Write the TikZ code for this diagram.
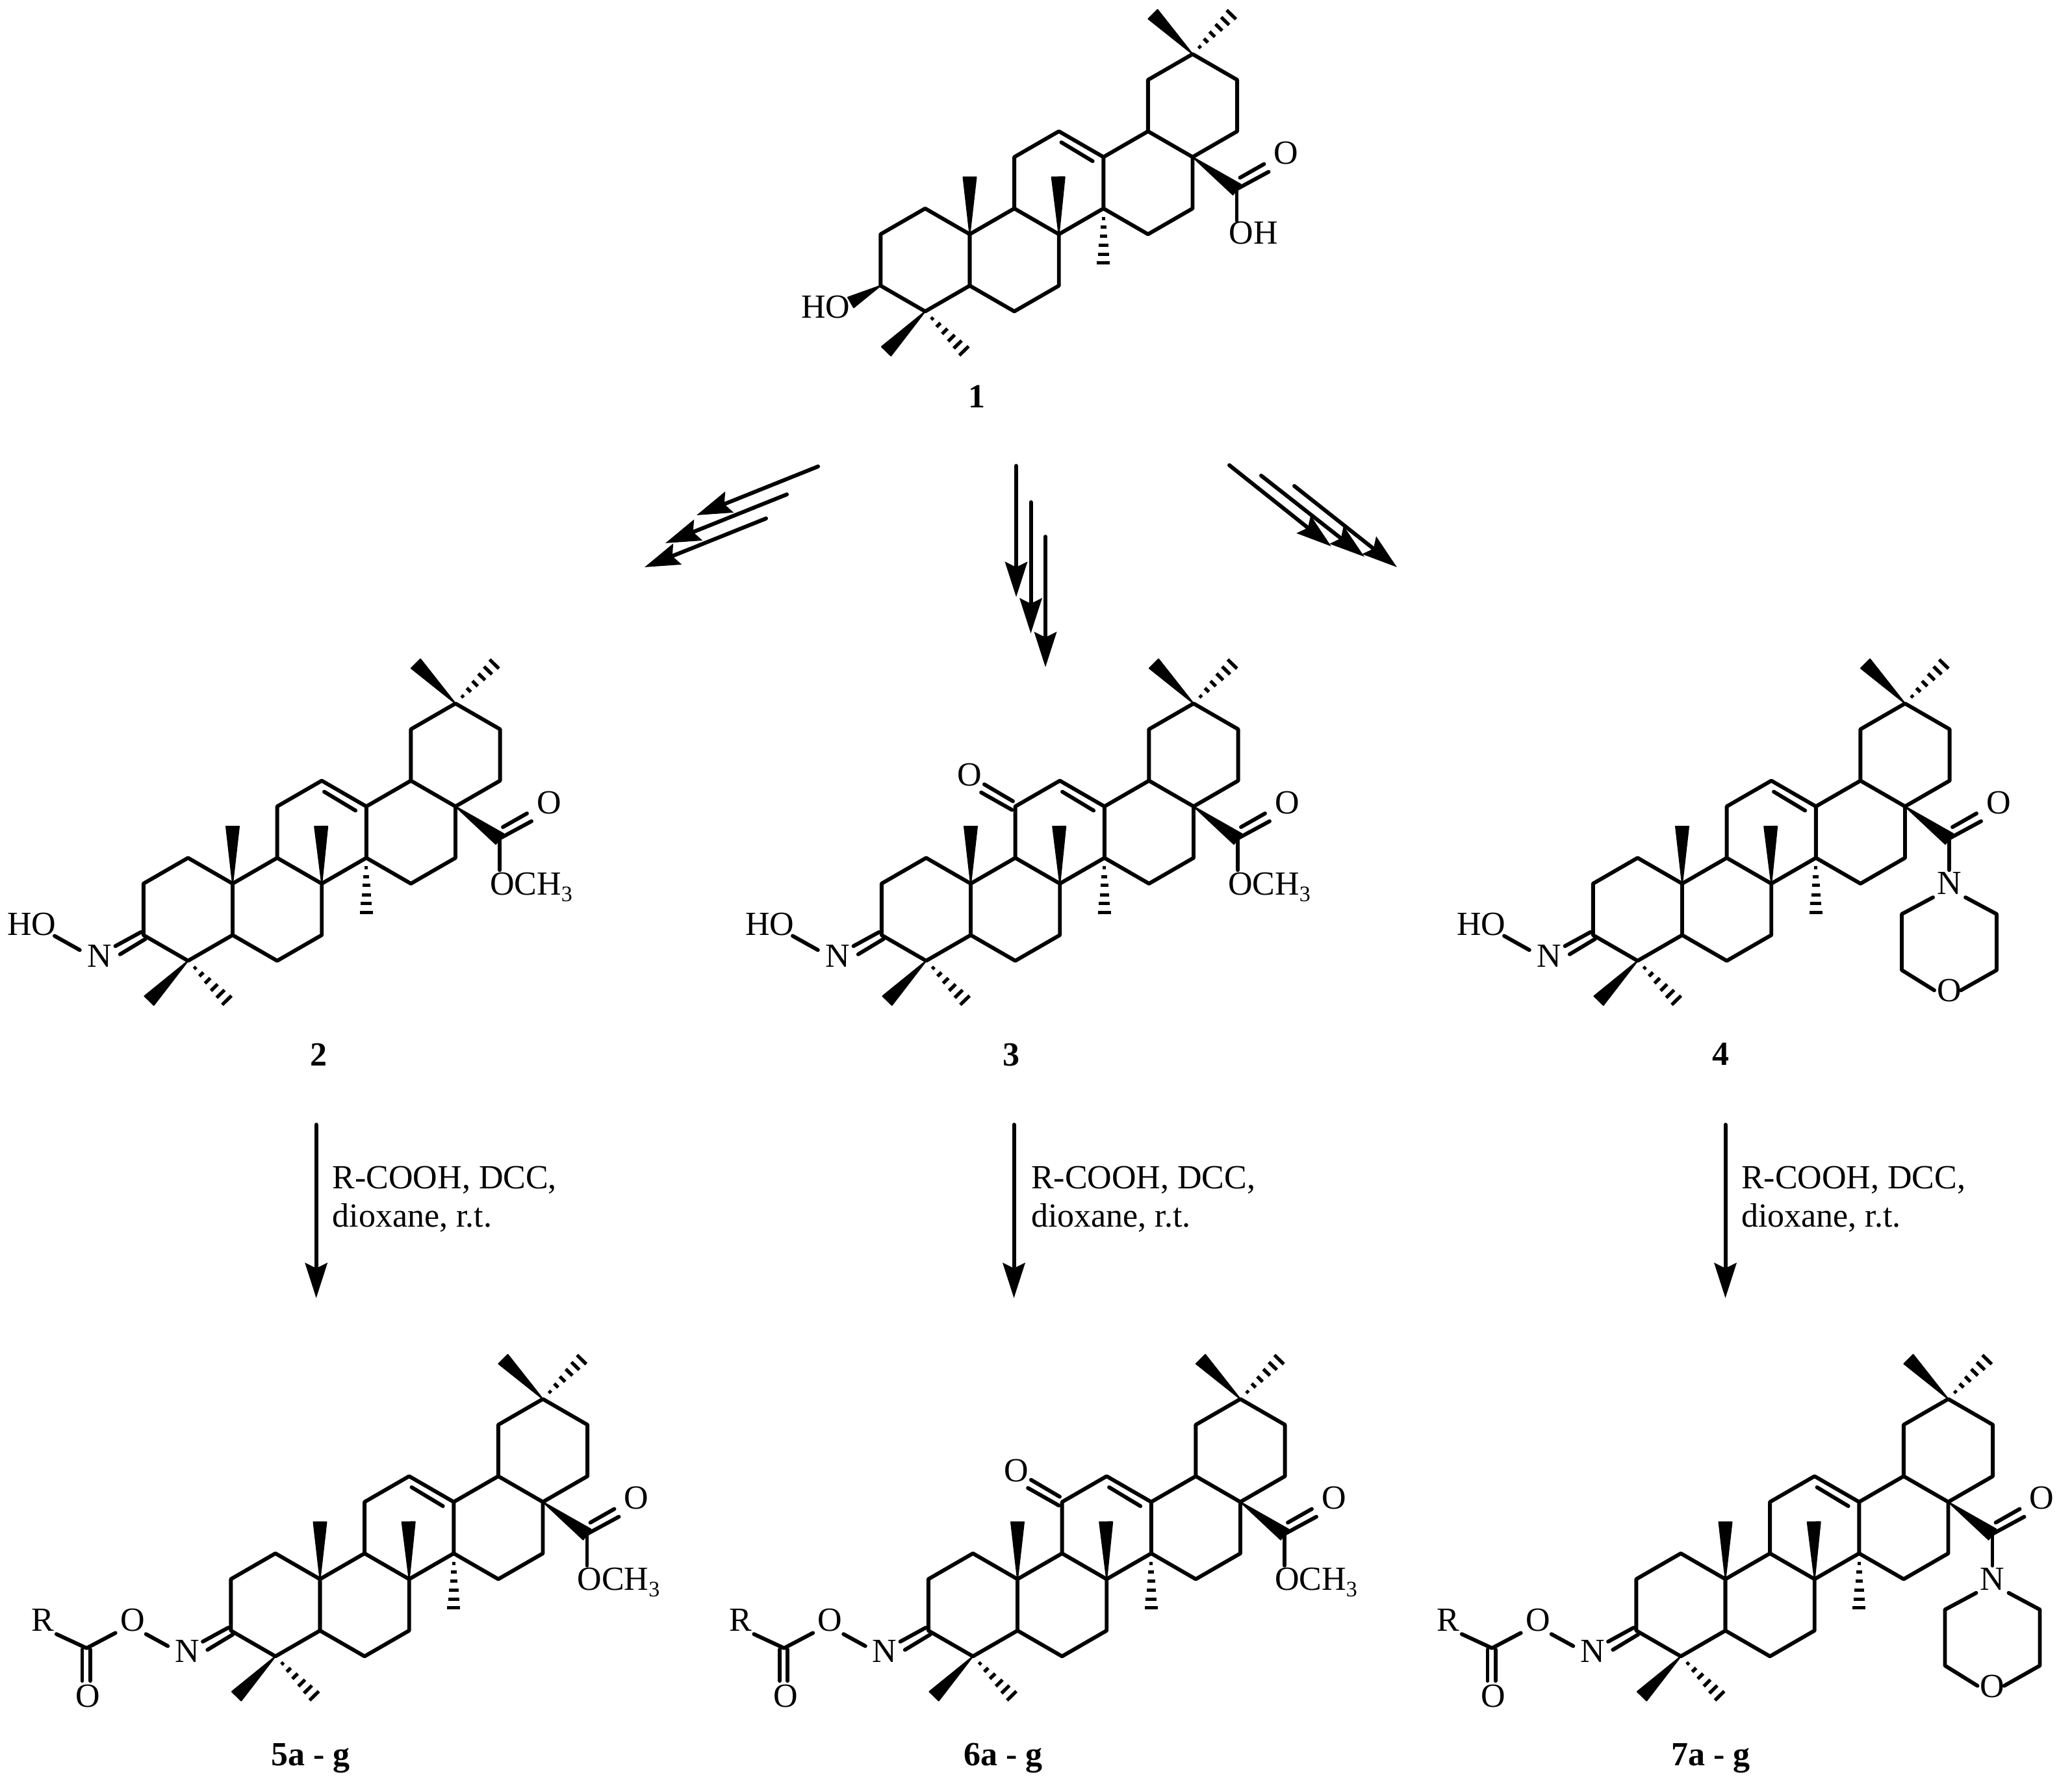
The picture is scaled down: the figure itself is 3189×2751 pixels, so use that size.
\documentclass[tikz,border=0pt]{standalone}
\usepackage{fontspec}
\setmainfont{Liberation Serif}
\usetikzlibrary{calc,arrows.meta}
\tikzset{
  bond/.style={line width=2.95pt,line cap=round,line join=round},
  rxn/.style={line width=3pt,line cap=round,-{Stealth[length=27pt,width=17pt,inset=4pt]}},
  atom/.style={inner sep=0pt,outer sep=0pt,anchor=base,font=\fontsize{26pt}{30pt}\selectfont},
  atomw/.style={atom,anchor=base west},
  cpd/.style={atom,font=\fontsize{26pt}{30pt}\selectfont\bfseries},
  cond/.style={inner sep=0pt,outer sep=0pt,anchor=base west,align=left,font=\fontsize{26pt}{29.5pt}\selectfont},
}
\newcommand{\wdg}[3]{\filldraw[line width=1pt,line join=round] (#1) -- ($(#2)!#3!90:(#1)$) -- ($(#2)!#3!-90:(#1)$) -- cycle;}
\newcommand{\hsh}[2]{\foreach \t/\w in {.18/1.2pt,.34/2.2pt,.5/2.9pt,.67/3.6pt,.83/4.3pt,.99/5pt}{%
  \coordinate (hm) at ($(#1)!\t!(#2)$);
  \draw[line width=2.6pt] ($(hm)!\w!90:(#2)$) -- ($(hm)!\w!-90:(#2)$);}}
\newcommand{\skel}[1]{%
  \coordinate (#1C10) at (0,0);
  \coordinate (#1C5) at (0,79.2);
  \coordinate (#1C4) at (-68.6,118.8);
  \coordinate (#1C3) at (-137.2,79.2);
  \coordinate (#1C2) at (-137.2,0);
  \coordinate (#1C1) at (-68.6,-39.6);
  \coordinate (#1C6) at (68.6,118.8);
  \coordinate (#1C7) at (137.2,79.2);
  \coordinate (#1C8) at (137.2,0);
  \coordinate (#1C9) at (68.6,-39.6);
  \coordinate (#1C14) at (205.8,-39.6);
  \coordinate (#1C13) at (205.8,-118.8);
  \coordinate (#1C12) at (137.2,-158.4);
  \coordinate (#1C11) at (68.6,-118.8);
  \coordinate (#1C15) at (274.4,0);
  \coordinate (#1C16) at (343,-39.6);
  \coordinate (#1C17) at (343,-118.8);
  \coordinate (#1C18) at (274.4,-158.4);
  \coordinate (#1C19) at (274.4,-237.6);
  \coordinate (#1C20) at (343,-277.2);
  \coordinate (#1C21) at (411.6,-237.6);
  \coordinate (#1C22) at (411.6,-158.4);
  \coordinate (#1Db) at (141,-141.4);
  \coordinate (#1De) at (189.2,-112.4);
  \coordinate (#1Me10) at (0,-88);
  \coordinate (#1Me8) at (136.2,-88);
  \coordinate (#1Me14) at (205.8,45);
  \coordinate (#1Me4a) at (-128.4,180.1);
  \coordinate (#1Me4b) at (-8.3,180.1);
  \coordinate (#1Me20a) at (282,-338.5);
  \coordinate (#1Me20b) at (403.3,-338.5);
  \coordinate (#1CO) at (411,-68.8);
  \coordinate (#1Oa) at (416,-87);
  \coordinate (#1Ob) at (453,-108);
  \coordinate (#1Oc) at (412,-70);
  \coordinate (#1Od) at (460,-96);
  \coordinate (#1X) at (411,-20.8);
  \draw[bond] (#1C3)--(#1C2)--(#1C1)--(#1C10)--(#1C5)--(#1C4)--cycle;
  \draw[bond] (#1C5)--(#1C6)--(#1C7)--(#1C8)--(#1C9)--(#1C10)--cycle;
  \draw[bond] (#1C9)--(#1C11)--(#1C12)--(#1C13)--(#1C14)--(#1C8);
  \draw[bond] (#1C14)--(#1C15)--(#1C16)--(#1C17)--(#1C18)--(#1C13);
  \draw[bond] (#1C18)--(#1C19)--(#1C20)--(#1C21)--(#1C22)--(#1C17);
  \draw[bond] (#1Db)--(#1De);
  \wdg{#1C10}{#1Me10}{5pt}
  \wdg{#1C8}{#1Me8}{5pt}
  \hsh{#1C14}{#1Me14}
  \wdg{#1C4}{#1Me4a}{5pt}
  \hsh{#1C4}{#1Me4b}
  \wdg{#1C20}{#1Me20a}{5pt}
  \hsh{#1C20}{#1Me20b}
  \wdg{#1C17}{#1CO}{5pt}
  \draw[bond] (#1Oa)--(#1Ob) (#1Oc)--(#1Od);
  \draw[bond] (#1CO)--(#1X);
  \node[atom] (#1O) at (487,-107.8) {O};
}
\newcommand{\methylester}[1]{\node[atomw] (#1OMe) at (396,17.2) {OCH{\fontsize{17pt}{17pt}\selectfont\raisebox{-5pt}{3}}};}
\newcommand{\morph}[1]{%
  \node[atom] (#1N) at (411,16.8) {N};
  \node[atom] (#1Om) at (411,181.7) {O};
  \coordinate (#1ma) at (436,21.2);
  \coordinate (#1mb) at (484,46.9);
  \coordinate (#1mc) at (484,133.1);
  \coordinate (#1md) at (429,164.2);
  \coordinate (#1me) at (386,21.2);
  \coordinate (#1mf) at (338,46.9);
  \coordinate (#1mg) at (338,133.1);
  \coordinate (#1mh) at (388,164.2);
  \draw[bond] (#1ma)--(#1mb)--(#1mc)--(#1md);
  \draw[bond] (#1me)--(#1mf)--(#1mg)--(#1mh);
}
\newcommand{\ketone}[1]{%
  \coordinate (#1ka) at (20.9,-152.8);
  \coordinate (#1kb) at (65,-126.8);
  \coordinate (#1kc) at (16.1,-140.3);
  \coordinate (#1kd) at (63.6,-113.4);
  \draw[bond] (#1ka)--(#1kb) (#1kc)--(#1kd);
  \node[atom] (#1Ok) at (-1.4,-150.3) {O};
}
\newcommand{\imine}[1]{%
  \coordinate (#1ia) at (-141.2,74.7);
  \coordinate (#1ib) at (-180.5,96.2);
  \coordinate (#1ic) at (-134.2,85.2);
  \coordinate (#1id) at (-173.2,108.8);
  \draw[bond] (#1ia)--(#1ib) (#1ic)--(#1id);
  \node[atom] (#1Ni) at (-204.7,128.2) {N};
}
\newcommand{\oximeOH}[1]{%
  \imine{#1}
  \coordinate (#1oa) at (-274,80.5);
  \coordinate (#1ob) at (-235.2,102.2);
  \draw[bond] (#1oa)--(#1ob);
  \node[atomw] (#1HO) at (-346.7,79.2) {HO};
}
\newcommand{\oximeAc}[1]{%
  \imine{#1}
  \coordinate (#1oa) at (-267.8,84.6);
  \coordinate (#1ob) at (-234.2,103);
  \coordinate (#1oc) at (-314.8,82.8);
  \coordinate (#1CA) at (-359.2,106.2);
  \coordinate (#1od) at (-405.7,84.6);
  \coordinate (#1oe) at (-366,108.2);
  \coordinate (#1of) at (-366,156.5);
  \coordinate (#1og) at (-353.9,108.2);
  \coordinate (#1oh) at (-353.9,156.5);
  \draw[bond] (#1oa)--(#1ob);
  \draw[bond] (#1oc)--(#1CA)--(#1od);
  \draw[bond] (#1oe)--(#1of) (#1og)--(#1oh);
  \node[atom] (#1Oe) at (-288.6,80.1) {O};
  \node[atom] (#1R) at (-426.2,80.1) {R};
  \node[atom] (#1Oc) at (-357.2,197.2) {O};
}
\begin{document}
\begin{tikzpicture}[x=.5pt,y=-.5pt]
\useasboundingbox (0,0) rectangle (3189,2751);
\fill[white] (0,0) rectangle (3189,2751);
% compound 1
\begin{scope}[shift={(1492.5,360.5)}]
  \skel{a}
  \coordinate (aOHw) at (-183,105);
  \wdg{aC3}{aOHw}{4.5pt}
  \node[atomw] (aHO) at (-259.5,129.2) {HO};
  \node[atomw] (aOH) at (399,15.2) {OH};
\end{scope}
% compound 2
\begin{scope}[shift={(358,1360)}]
  \skel{b}\methylester{b}\oximeOH{b}
\end{scope}
% compound 3
\begin{scope}[shift={(1494,1360)}]
  \skel{c}\methylester{c}\oximeOH{c}\ketone{c}
\end{scope}
% compound 4
\begin{scope}[shift={(2589,1360)}]
  \skel{d}\morph{d}\oximeOH{d}
\end{scope}
% compound 5
\begin{scope}[shift={(492.5,2430.5)}]
  \skel{e}\methylester{e}\oximeAc{e}
\end{scope}
% compound 6
\begin{scope}[shift={(1566,2430.5)}]
  \skel{f}\methylester{f}\oximeAc{f}\ketone{f}
\end{scope}
% compound 7
\begin{scope}[shift={(2655.5,2430.5)}]
  \skel{g}\morph{g}\oximeAc{g}
\end{scope}
% compound labels
\node[cpd] (l1) at (1503,627) {1};
\node[cpd] (l2) at (490,1640) {2};
\node[cpd] (l3) at (1556,1640) {3};
\node[cpd] (l4) at (2648,1639) {4};
\node[cpd] (l5) at (478,2717) {5a - g};
\node[cpd] (l6) at (1544,2717) {6a - g};
\node[cpd] (l7) at (2633,2717) {7a - g};
% multi-step arrows from 1
\coordinate (la1) at (1259,718); \coordinate (lb1) at (1072,793);
\coordinate (la2) at (1211,761); \coordinate (lb2) at (1024,836);
\coordinate (la3) at (1179,798); \coordinate (lb3) at (992,873);
\draw[rxn] (la1)--(lb1); \draw[rxn] (la2)--(lb2); \draw[rxn] (la3)--(lb3);
\coordinate (ma1) at (1564,717); \coordinate (mb1) at (1564,919);
\coordinate (ma2) at (1586.5,773); \coordinate (mb2) at (1586.5,975);
\coordinate (ma3) at (1609,826); \coordinate (mb3) at (1609,1027);
\draw[rxn] (ma1)--(mb1); \draw[rxn] (ma2)--(mb2); \draw[rxn] (ma3)--(mb3);
\coordinate (ra1) at (1892,716); \coordinate (rb1) at (2049,841);
\coordinate (ra2) at (1941,732); \coordinate (rb2) at (2100,857);
\coordinate (ra3) at (1992,748); \coordinate (rb3) at (2150,873);
\draw[rxn] (ra1)--(rb1); \draw[rxn] (ra2)--(rb2); \draw[rxn] (ra3)--(rb3);
% acylation arrows
\coordinate (ta1) at (486.7,1731); \coordinate (tb1) at (486.7,1998);
\coordinate (ta2) at (1560.5,1731); \coordinate (tb2) at (1560.5,1998);
\coordinate (ta3) at (2655.5,1731); \coordinate (tb3) at (2655.5,1998);
\draw[rxn] (ta1)--(tb1); \draw[rxn] (ta2)--(tb2); \draw[rxn] (ta3)--(tb3);
\node[cond] (c1) at (511.7,1888) {R-COOH, DCC,\\dioxane, r.t.};
\node[cond] (c2) at (1587,1888) {R-COOH, DCC,\\dioxane, r.t.};
\node[cond] (c3) at (2680,1888) {R-COOH, DCC,\\dioxane, r.t.};
\end{tikzpicture}
\end{document}
